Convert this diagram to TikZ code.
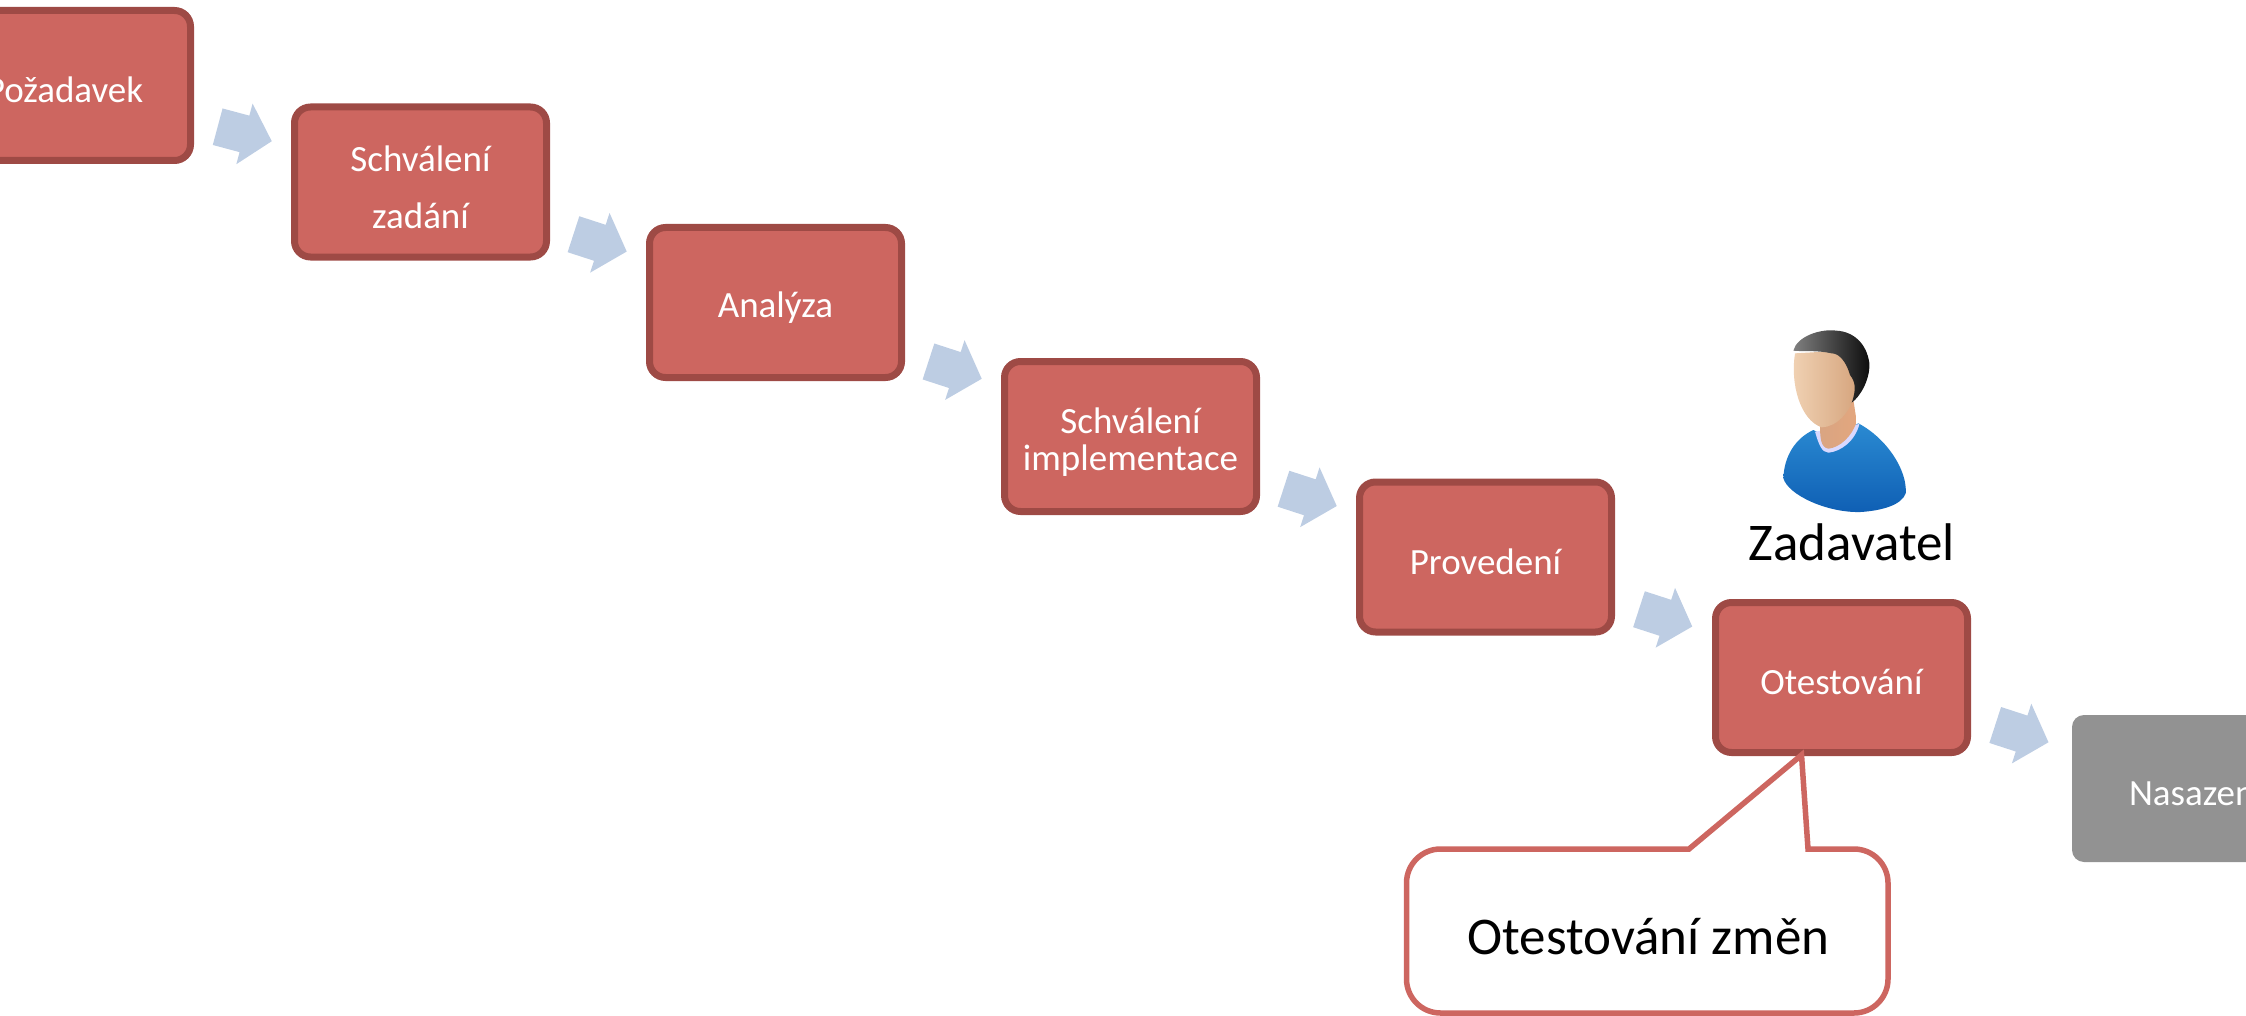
\documentclass[tikz,border=0pt]{standalone}
\usepackage{fontspec}
\setmainfont{Carlito}
\usetikzlibrary{shapes,positioning,calc}
\definecolor{boxred}{HTML}{CD6660}
\definecolor{boxedge}{HTML}{9E4A45}
\definecolor{boxgrey}{HTML}{929292}
\definecolor{flowblue}{HTML}{BDCDE3}
\definecolor{shirttop}{HTML}{2A8AD2}
\definecolor{shirtlow}{HTML}{0F5FB4}
\definecolor{skinlight}{HTML}{F1D3B5}
\definecolor{skindark}{HTML}{D6A57E}
\definecolor{necklight}{HTML}{D9A582}
\definecolor{neckdark}{HTML}{E3A67E}

\begin{document}
\begin{tikzpicture}[x=0.5pt, y=-0.5pt]
    \tikzstyle{step box} = [rectangle, rounded corners=8pt, line width=3.5pt, draw=boxedge, fill=boxred, text=white, align=center, minimum width=126pt, minimum height=75pt, inner sep=0pt, font=\fontsize{18.5}{22}\selectfont, execute at begin node={\rule{0pt}{17.5pt}}]
    \tikzstyle{step text} = [text=white, align=center, inner sep=0pt, font=\fontsize{18.5}{22}\selectfont]
    \tikzstyle{flow} = [xshift=-3pt, yshift=1pt, single arrow, fill=flowblue, inner xsep=0pt, inner ysep=9.25pt, minimum height=28pt, single arrow head extend=6.25pt, single arrow tip angle=96]
    \tikzstyle{big text} = [inner sep=0pt, text=black, font=\fontsize{26.5}{31}\selectfont]
    \useasboundingbox (0, 0) rectangle (2246, 1016);
    \node[step box] (pozadavek) at (64.5, 85.5) {Požadavek};
    \node[step box] (zadani) at (420.5, 182) {};
    \node[step text] (zadani text) at ([yshift=-2.5pt]zadani.center) {Schválení\\[6.4pt]zadání};
    \node[step box] (analyza) at (775.5, 302.5) {Analýza};
    \node[step box] (implementace) at (1130.5, 436.5) {};
    \node[step text] (implementace text) at ([yshift=-3pt]implementace.center) {Schválení\\[-3.5pt]implementace};
    \node[step box] (provedeni) at (1485.5, 557) {Provedení};
    \node[step box] (otestovani) at (1841.5, 677.5) {Otestování};
    \node[step box, draw=none, fill=boxgrey, rounded corners=6pt, minimum width=124pt, minimum height=73.5pt] (nasazeni) at (2196, 788.5) {Nasazení};
    \node[flow, rotate=-15] (f1) at ($(pozadavek.east)!0.5!(zadani.west)$) {};
    \node[flow, rotate=-18] (f2) at ($(zadani.east)!0.5!(analyza.west)$) {};
    \node[flow, rotate=-18] (f3) at ($(analyza.east)!0.5!(implementace.west)$) {};
    \node[flow, rotate=-18] (f4) at ($(implementace.east)!0.5!(provedeni.west)$) {};
    \node[flow, rotate=-18] (f5) at ($(provedeni.east)!0.5!(otestovani.west)$) {};
    \node[flow, rotate=-18] (f6) at ($(otestovani.east)!0.5!(nasazeni.west)$) {};
    % callout
    \coordinate (tip) at (1801.5, 755);
    \draw[line width=2.75pt, draw=boxred, fill=white, line join=miter] (tip) -- (1808, 849) [rounded corners=17pt] -- (1888, 849) -- (1888, 1013) -- (1406.5, 1013) -- (1406.5, 849) [sharp corners] -- (1689, 849) -- cycle;
    \node[big text] (zmeny) at (1648.5, 937) {Otestování změn};
    % person
    \begin{scope}[shift={(1700, 310)}, x=0.1667pt, y=-0.1667pt]
        \shade[top color=shirttop, bottom color=shirtlow] (340, 360) .. controls (285, 385) and (252, 440) .. (250, 505) .. controls (265, 555) and (380, 608) .. (480, 606) .. controls (545, 602) and (605, 585) .. (617, 550) .. controls (622, 480) and (560, 385) .. (475, 340) -- (380, 380) -- cycle;
        \fill[white!85!blue] (345, 365) .. controls (355, 400) and (365, 428) .. (385, 428) .. controls (420, 425) and (465, 395) .. (478, 342) -- cycle;
        \shade[left color=necklight, right color=neckdark] (360, 345) .. controls (360, 385) and (362, 412) .. (385, 416) .. controls (420, 412) and (455, 380) .. (470, 335) -- (460, 270) -- cycle;
        \shade[left color=skinlight, right color=skindark] (285, 130) .. controls (270, 220) and (300, 330) .. (365, 352) .. controls (410, 350) and (450, 310) .. (470, 240) -- (460, 120) -- cycle;
        \shade[left color=black!50, right color=black!95] (280, 122) .. controls (290, 80) and (360, 55) .. (410, 62) .. controls (460, 65) and (500, 100) .. (508, 160) .. controls (510, 210) and (480, 260) .. (455, 278) .. controls (470, 235) and (465, 215) .. (450, 195) .. controls (440, 160) and (420, 130) .. (395, 130) .. controls (350, 120) and (305, 125) .. (280, 122) -- cycle;
    \end{scope}
    \node[big text] (zadavatel) at (1852, 542) {Zadavatel};
\end{tikzpicture}
\end{document}
